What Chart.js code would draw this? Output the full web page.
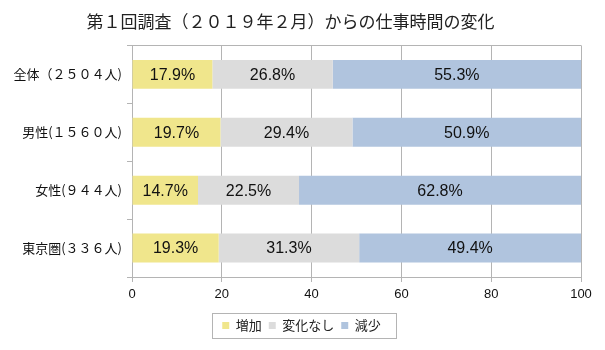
<!DOCTYPE html>
<html lang="ja">
<head>
<meta charset="utf-8">
<script src="https://cdn.jsdelivr.net/npm/chart.js@4/dist/chart.umd.min.js"></script>
<style>
  html, body { margin: 0; padding: 0; background: #fff; }
  #wrap { width: 605px; height: 350px; }
</style>
</head>
<body>
<div id="wrap"><canvas id="c" width="605" height="350"></canvas></div>
<script>
// Respondent groups (share of each answer, %)
const groups = ['全体（２５０４人)', '男性(１５６０人)', '女性(９４４人)', '東京圏(３３６人)'];
const increased = [17.9, 19.7, 14.7, 19.3];
const unchanged = [26.8, 29.4, 22.5, 31.3];
const decreased = [55.3, 50.9, 62.8, 49.4];
const seriesNames = ['増加', '変化なし', '減少'];
const xTicks = [0, 20, 40, 60, 80, 100];

const GRID = '#b4b4b4';
const LATIN = "'Liberation Sans', Arial, 'Noto Sans CJK JP', sans-serif";
const CJK = "'Noto Sans CJK JP', 'Liberation Sans', sans-serif";
const LEGEND_SHIFT = 11; // centre the legend on the whole canvas, not just the left part

// Value labels centred in each bar segment
const segmentLabels = {
  id: 'segmentLabels',
  afterDatasetsDraw(chart) {
    const ctx = chart.ctx;
    ctx.save();
    ctx.font = '16px ' + LATIN;
    ctx.fillStyle = '#111';
    ctx.textAlign = 'center';
    ctx.textBaseline = 'middle';
    chart.data.datasets.forEach((ds, di) => {
      const meta = chart.getDatasetMeta(di);
      meta.data.forEach((bar, i) => {
        const v = ds.data[i];
        const cx = (bar.x + bar.base) / 2;
        ctx.fillText(v.toFixed(1) + '%', cx, bar.y + 1);
      });
    });
    ctx.restore();
  }
};

// Moves the legend sideways and draws a thin frame around its entries
const legendFrame = {
  id: 'legendFrame',
  afterUpdate(chart) {
    const lg = chart.legend;
    if (!lg) return;
    lg.left += LEGEND_SHIFT;
    lg.right += LEGEND_SHIFT;
    (lg.legendHitBoxes || []).forEach(h => { h.left += LEGEND_SHIFT; });
  },
  afterDraw(chart) {
    const boxes = chart.legend && chart.legend.legendHitBoxes;
    if (!boxes || !boxes.length) return;
    let l = Infinity, r = -Infinity, t = Infinity, b = -Infinity;
    boxes.forEach(h => {
      l = Math.min(l, h.left); r = Math.max(r, h.left + h.width);
      t = Math.min(t, h.top); b = Math.max(b, h.top + h.height);
    });
    const ctx = chart.ctx;
    ctx.save();
    ctx.strokeStyle = GRID;
    ctx.lineWidth = 1;
    ctx.strokeRect(Math.round(l - 10) + 0.5, Math.round(t - 6) + 0.5,
                   Math.round(r - l + 25), Math.round(b - t + 12));
    ctx.restore();
  }
};

new Chart(document.getElementById('c'), {
  type: 'bar',
  data: {
    labels: groups,
    datasets: [
      { label: seriesNames[0], data: increased, backgroundColor: '#f0e68c' },
      { label: seriesNames[1], data: unchanged, backgroundColor: '#dcdcdc' },
      { label: seriesNames[2], data: decreased, backgroundColor: '#b0c4de' }
    ]
  },
  options: {
    indexAxis: 'y',
    responsive: false,
    animation: false,
    devicePixelRatio: 1,
    categoryPercentage: 1.0,
    barPercentage: 0.5,
    layout: { padding: { left: 0, right: 24, top: 0, bottom: 8 } },
    scales: {
      x: {
        stacked: true,
        min: 0,
        max: 100,
        afterBuildTicks(scale) { scale.ticks = xTicks.map(v => ({ value: v })); },
        afterFit(scale) { scale.height = 35; },
        border: { display: true, color: GRID },
        grid: { color: GRID, tickColor: GRID, tickLength: 5, lineWidth: 1 },
        ticks: { color: '#111', font: { size: 13, family: LATIN }, padding: 5 }
      },
      y: {
        stacked: true,
        afterFit(scale) { scale.width = 132; },
        border: { display: true, color: GRID },
        grid: {
          offset: true,
          color: c => (c.index === 0 || c.index === groups.length) ? GRID : 'rgba(0,0,0,0)',
          tickColor: GRID,
          tickLength: 5
        },
        ticks: { color: '#111', font: { size: 13, family: CJK }, padding: 5 }
      }
    },
    plugins: {
      title: {
        display: true,
        text: '第１回調査（２０１９年２月）からの仕事時間の変化',
        color: '#222',
        font: { size: 17, family: CJK, weight: 'normal' },
        padding: { top: 11, bottom: 14 }
      },
      legend: {
        position: 'bottom',
        labels: {
          color: '#222',
          boxWidth: 7,
          boxHeight: 7,
          padding: 7,
          font: { size: 13, family: CJK }
        }
      },
      tooltip: { enabled: false }
    }
  },
  plugins: [segmentLabels, legendFrame]
});
</script>
</body>
</html>
